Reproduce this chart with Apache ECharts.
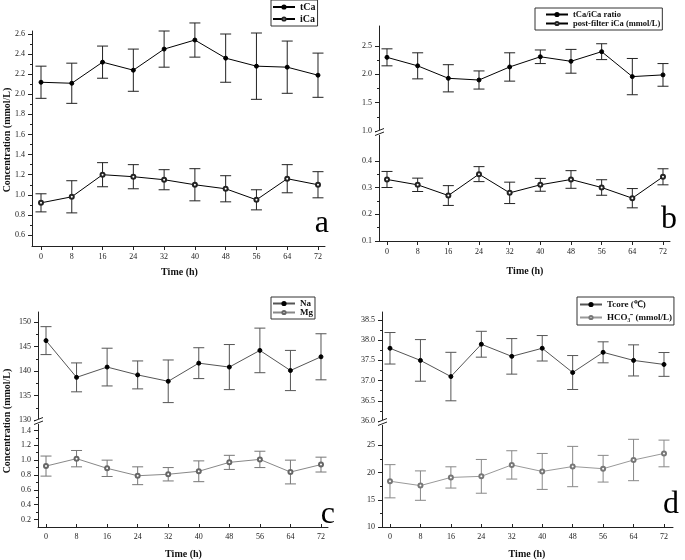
<!DOCTYPE html>
<html><head><meta charset="utf-8">
<script src="https://cdn.jsdelivr.net/npm/echarts@6/dist/echarts.min.js"></script>
<style>html,body{margin:0;padding:0;background:#fff}#c{width:685px;height:560px}</style>
</head><body><div id="c"></div>
<script>
// ---------- data ----------
const times = [0, 8, 16, 24, 32, 40, 48, 56, 64, 72];

// panel a
const tCaMean = [2.12, 2.11, 2.32, 2.24, 2.45, 2.54, 2.36, 2.28, 2.27, 2.19];
const tCaSD   = [0.16, 0.20, 0.16, 0.21, 0.18, 0.17, 0.24, 0.33, 0.26, 0.22];
const iCaMean = [0.92, 0.98, 1.20, 1.18, 1.15, 1.10, 1.06, 0.95, 1.16, 1.10];
const iCaSD   = [0.09, 0.16, 0.12, 0.12, 0.10, 0.16, 0.13, 0.10, 0.14, 0.13];

// panel b
const ratioMean = [2.30, 2.15, 1.93, 1.90, 2.13, 2.31, 2.23, 2.40, 1.96, 1.99];
const ratioSD   = [0.15, 0.23, 0.24, 0.16, 0.25, 0.12, 0.21, 0.14, 0.32, 0.20];
const pfiCaMean = [0.33, 0.31, 0.27, 0.35, 0.28, 0.31, 0.33, 0.30, 0.26, 0.34];
const pfiCaSD   = [0.030, 0.025, 0.037, 0.028, 0.040, 0.024, 0.033, 0.029, 0.036, 0.030];

// panel c
const naMean = [146.2, 138.7, 140.8, 139.2, 137.9, 141.6, 140.8, 144.2, 140.1, 142.9];
const naSD   = [2.85, 2.95, 3.85, 2.85, 4.35, 3.15, 4.6, 4.55, 4.1, 4.7];
const mgMean = [0.92, 1.02, 0.89, 0.79, 0.81, 0.85, 0.97, 1.01, 0.84, 0.94];
const mgSD   = [0.135, 0.11, 0.11, 0.12, 0.09, 0.14, 0.095, 0.11, 0.16, 0.10];

// panel d
const tcoreMean = [37.8, 37.5, 37.1, 37.9, 37.6, 37.8, 37.2, 37.7, 37.5, 37.4];
const tcoreSD   = [0.39, 0.515, 0.60, 0.32, 0.44, 0.315, 0.42, 0.26, 0.385, 0.295];
const hco3Mean  = [18.4, 17.6, 19.1, 19.3, 21.4, 20.2, 21.1, 20.7, 22.3, 23.5];
const hco3SD    = [3.05, 2.7, 1.95, 3.1, 2.6, 3.3, 3.7, 2.45, 3.8, 2.45];

// tick labels: [first label, last label, step]
const xTickRange = [0, 72, 8];
const yTicksA  = [0.6, 2.6, 0.2];
const yTicksBu = [1.0, 2.5, 0.5];
const yTicksBl = [0.1, 0.4, 0.1];
const yTicksCu = [130, 150, 5];
const yTicksCl = [0.2, 1.4, 0.2];
const yTicksDu = [36.0, 38.5, 0.5];
const yTicksDl = [10, 25, 5];

// ---------- build ----------
const FONT = 'Liberation Serif';
const AX = '#222';
const grids = [], xAxes = [], yAxes = [], series = [], legends = [], graphics = [];
const noAxis = {show: false, min: 0, max: 1, type: 'value'};

function lineOnlyAxis(extra) {
  return Object.assign({
    type: 'value',
    axisLine: {show: true, onZero: false, lineStyle: {color: AX, width: 1}},
    axisTick: {show: false}, axisLabel: {show: false}, splitLine: {show: false}
  }, extra);
}
// data grid: carries the axis lines and the series
function addGrid(rect, xr, yr, showXLine) {
  const gi = grids.length;
  grids.push({left: rect[0], top: rect[1], width: rect[2], height: rect[3]});
  xAxes.push(lineOnlyAxis({gridIndex: gi, min: xr[0], max: xr[1], show: showXLine}));
  yAxes.push(lineOnlyAxis({gridIndex: gi, min: yr[0], max: yr[1]}));
  return gi;
}
// tick grid for x: spans exactly from the first to the last time label
function addXTicks(x0, x72, top, height, nameGap, margin) {
  const gi = grids.length;
  grids.push({left: x0, top: top, width: x72 - x0, height: height});
  xAxes.push({
    type: 'value', gridIndex: gi, min: xTickRange[0], max: xTickRange[1], interval: xTickRange[2],
    axisLine: {show: false, onZero: false},
    axisTick: {show: true, length: 4, lineStyle: {color: AX}},
    axisLabel: {fontFamily: FONT, fontSize: 8, color: AX, margin: margin},
    splitLine: {show: false},
    name: 'Time (h)', nameLocation: 'middle', nameGap: nameGap,
    nameTextStyle: {fontFamily: FONT, fontSize: 10, fontWeight: 'bold', color: '#111'}
  });
  yAxes.push(Object.assign({gridIndex: gi}, noAxis));
}
// tick grid for y: spans from the first to the last labelled value
function addYTicks(left, topPx, botPx, tk, dec) {
  const gi = grids.length;
  grids.push({left: left, top: topPx, width: 10, height: botPx - topPx});
  xAxes.push(Object.assign({gridIndex: gi}, noAxis));
  yAxes.push({
    type: 'value', gridIndex: gi, min: tk[0], max: tk[1], interval: tk[2],
    axisLine: {show: false, onZero: false},
    axisTick: {show: true, length: 4, lineStyle: {color: AX}},
    minorTick: {show: true, splitNumber: 2, length: 2, lineStyle: {color: AX}},
    axisLabel: {formatter: v => Number(v).toFixed(dec), fontFamily: FONT, fontSize: 8, color: AX, margin: 7},
    splitLine: {show: false}
  });
}
function addSeries(name, gi, mean, sd, filled, lineColor, barColor, markColor) {
  series.push({
    type: 'custom', name: name + ' SD', xAxisIndex: gi, yAxisIndex: gi, z: 2, silent: true,
    data: times.map((t, i) => [t, mean[i] - sd[i], mean[i] + sd[i]]),
    encode: {x: 0, y: [1, 2]},
    renderItem: function (params, api) {
      const x = api.value(0);
      const top = api.coord([x, api.value(2)]);
      const bot = api.coord([x, api.value(1)]);
      const w = 5.5;
      const st = {stroke: barColor, lineWidth: 1, fill: null};
      return {type: 'group', children: [
        {type: 'line', shape: {x1: top[0], y1: top[1], x2: bot[0], y2: bot[1]}, style: st},
        {type: 'line', shape: {x1: top[0] - w, y1: top[1], x2: top[0] + w, y2: top[1]}, style: st},
        {type: 'line', shape: {x1: bot[0] - w, y1: bot[1], x2: bot[0] + w, y2: bot[1]}, style: st}
      ]};
    }
  });
  series.push({
    type: 'line', name: name, xAxisIndex: gi, yAxisIndex: gi, z: 3,
    data: times.map((t, i) => [t, mean[i]]),
    symbol: filled ? 'circle' : 'emptyCircle', symbolSize: 4,
    lineStyle: {color: lineColor, width: 1},
    itemStyle: {color: filled ? '#000' : markColor, borderColor: filled ? '#000' : markColor, borderWidth: filled ? 1 : 0.8}
  });
}
function addLegend(names, left, top, padding, fontSize, gap) {
  legends.push({
    data: names, left: left, top: top, orient: 'vertical',
    itemWidth: 22, itemHeight: 4, itemGap: gap, padding: padding,
    borderColor: '#333', borderWidth: 1, backgroundColor: '#fff',
    textStyle: {fontFamily: FONT, fontSize: fontSize, fontWeight: 'bold', color: '#111'},
    selectedMode: false
  });
}
function breakMark(x, y) {
  graphics.push({type: 'rect', shape: {x: x - 2, y: y - 2.5, width: 4, height: 5}, style: {fill: '#fff'}, z: 100});
  graphics.push({type: 'line', shape: {x1: x - 4, y1: y - 0.5, x2: x + 5, y2: y - 4}, style: {stroke: '#222', lineWidth: 1}, z: 101});
  graphics.push({type: 'line', shape: {x1: x - 4, y1: y + 3, x2: x + 5, y2: y - 0.5}, style: {stroke: '#222', lineWidth: 1}, z: 101});
}
function bigText(t, x, y) {
  graphics.push({type: 'text', x: x, y: y, z: 50,
    style: {text: t, font: '32px "Liberation Serif"', fill: '#000', textAlign: 'right', textVerticalAlign: 'middle'}});
}
function yTitle(x, y) {
  graphics.push({type: 'text', x: x, y: y, rotation: Math.PI / 2, z: 50,
    style: {text: 'Concentration (mmol/L)', font: 'bold 10px "Liberation Serif"', fill: '#111',
      textAlign: 'center', textVerticalAlign: 'middle'}});
}

// panel a
let g = addGrid([32, 31, 293, 215], [-2.34, 73.82], [0.4905, 2.63], true);
addSeries('tCa', g, tCaMean, tCaSD, true, '#000', '#222', '#000');
addSeries('iCa', g, iCaMean, iCaSD, false, '#000', '#222', '#222');
addXTicks(41, 318, 31, 215, 21, 7);
addYTicks(32, 34, 235, yTicksA, 1);
addLegend(['tCa', 'iCa'], 271, 0, [2, 2, 2, 1], 10, 2);
bigText('a', 329, 224);
yTitle(7, 140);

// panel b
g = addGrid([379, 26, 291, 105], [-2.087, 73.83], [1.0, 2.853], false);
addSeries('tCa/iCa ratio', g, ratioMean, ratioSD, true, '#000', '#222', '#000');
addYTicks(379, 46, 131, yTicksBu, 1);
g = addGrid([379, 134, 291, 107], [-2.087, 73.83], [0.1, 0.5], true);
addSeries('post-filter iCa (mmol/L)', g, pfiCaMean, pfiCaSD, false, '#000', '#222', '#222');
addYTicks(379, 160.75, 241, yTicksBl, 1);
addXTicks(387, 663, 134, 107, 25, 7);
addLegend(['tCa/iCa ratio', 'post-filter iCa (mmol/L)'], 535, 8, [2, 2, 2, 10], 8.5, 0);
breakMark(379, 132.5);
bigText('b', 677, 220);

// panel c
g = addGrid([38, 312, 290, 108], [-2.095, 73.833], [130, 152.04], false);
addSeries('Na', g, naMean, naSD, true, '#555', '#555', '#000');
addYTicks(38, 322.0, 420, yTicksCu, 0);
g = addGrid([38, 423, 290, 104], [-2.095, 73.833], [0.1, 1.5], true);
addSeries('Mg', g, mgMean, mgSD, false, '#888', '#777', '#666');
addYTicks(38, 430.43, 519.57, yTicksCl, 1);
addXTicks(46, 321, 423, 104, 25, 9);
addLegend(['Na', 'Mg'], 271, 297, [2, 2, 2, 1], 9, 0);
breakMark(38, 421.5);
bigText('c', 335, 515);
yTitle(7, 421);

// panel d
g = addGrid([382, 312, 291, 109], [-2.102, 74.365], [36.0, 38.698], false);
addSeries('Tcore (℃)', g, tcoreMean, tcoreSD, true, '#555', '#555', '#000');
addYTicks(382, 320.0, 421, yTicksDu, 1);
g = addGrid([382, 424, 291, 103], [-2.102, 74.365], [10, 28.91], true);
addSeries('HCO₃⁻ (mmol/L)', g, hco3Mean, hco3SD, false, '#999', '#888', '#777');
addYTicks(382, 445.3, 527, yTicksDl, 0);
addXTicks(390, 664, 424, 103, 25, 9);
addLegend(['Tcore (℃)', 'HCO₃⁻ (mmol/L)'], 577, 297, [3, 2, 3, 2], 9, 4);
breakMark(382, 422.5);
bigText('d', 679, 505);

const chart = echarts.init(document.getElementById('c'));
chart.setOption({
  animation: false,
  backgroundColor: '#fff',
  grid: grids, xAxis: xAxes, yAxis: yAxes, series: series, legend: legends,
  graphic: graphics
});
</script></body></html>
